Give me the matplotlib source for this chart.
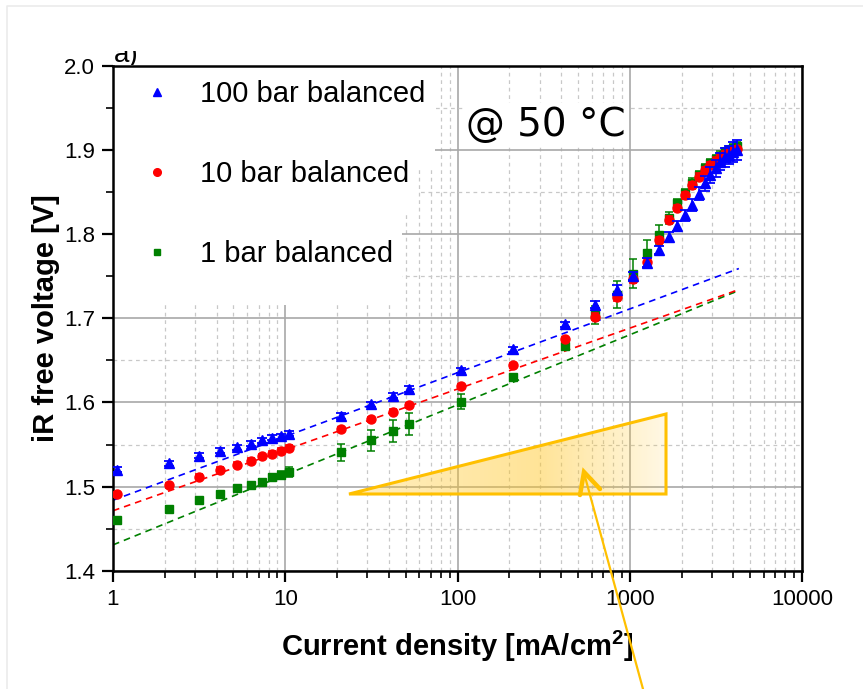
import numpy as np
import matplotlib
matplotlib.use("Agg")
import matplotlib.pyplot as plt
from matplotlib.ticker import LogLocator, NullFormatter, MultipleLocator
from matplotlib.patches import Polygon, Rectangle
from matplotlib.lines import Line2D
from matplotlib.transforms import Bbox

plt.rcParams['font.family'] = ['Liberation Sans', 'DejaVu Sans']
plt.rcParams['mathtext.fontset'] = 'custom'
plt.rcParams['mathtext.rm'] = 'Liberation Sans'
plt.rcParams['mathtext.bf'] = 'Liberation Sans:bold'

# current density [mA/cm2], shared by the three series
j = [1.05, 2.1, 3.15, 4.2, 5.25, 6.3, 7.35, 8.4, 9.45, 10.5,
     21, 31.5, 42, 52.5, 105, 210, 420, 630, 840, 1050, 1260,
     1470, 1680, 1890, 2100, 2310, 2520, 2730, 2940, 3150, 3360,
     3570, 3780, 3990, 4200]

v_100 = [1.520, 1.528, 1.537, 1.543, 1.547, 1.551, 1.555, 1.558, 1.560, 1.563,
         1.584, 1.598, 1.608, 1.616, 1.638, 1.663, 1.693, 1.716, 1.734, 1.750,
         1.766, 1.781, 1.796, 1.809, 1.822, 1.834, 1.848, 1.860, 1.870, 1.878,
         1.886, 1.891, 1.894, 1.897, 1.900]
err_100 = [0.003, 0.003, 0.003, 0.003, 0.003, 0.003, 0.003, 0.003, 0.003, 0.003,
           0.003, 0.003, 0.003, 0.003, 0.003, 0.003, 0.003, 0.004, 0.005, 0.005,
           0.005, 0.005, 0.006, 0.006, 0.007, 0.007, 0.008, 0.009, 0.009, 0.010,
           0.010, 0.011, 0.011, 0.012, 0.012]

v_10 = [1.491, 1.502, 1.512, 1.520, 1.526, 1.531, 1.536, 1.539, 1.543, 1.546,
        1.568, 1.580, 1.589, 1.597, 1.619, 1.644, 1.675, 1.702, 1.725, 1.746,
        1.767, 1.793, 1.817, 1.831, 1.846, 1.858, 1.868, 1.876, 1.882, 1.887,
        1.891, 1.895, 1.897, 1.899, 1.901]
err_10 = [0.003] * 17 + [0.004] * 18

v_1 = [1.461, 1.474, 1.484, 1.491, 1.498, 1.502, 1.506, 1.511, 1.514, 1.517,
       1.541, 1.555, 1.566, 1.575, 1.601, 1.630, 1.667, 1.704, 1.728, 1.753,
       1.777, 1.799, 1.819, 1.837, 1.849, 1.861, 1.870, 1.878, 1.884, 1.889,
       1.893, 1.897, 1.900, 1.902, 1.904]
err_1 = [0.003, 0.003, 0.003, 0.003, 0.003, 0.003, 0.003, 0.004, 0.005, 0.006,
         0.010, 0.012, 0.013, 0.013, 0.009, 0.004, 0.005, 0.011, 0.016, 0.017,
         0.016, 0.012, 0.007, 0.005, 0.005, 0.005, 0.005, 0.005, 0.005, 0.005,
         0.005, 0.005, 0.005, 0.005, 0.005]

# Tafel fit lines (end points)
fit_j = [1, 4300]
fit_100 = [1.484, 1.759]
fit_10 = [1.4715, 1.734]
fit_1 = [1.431, 1.733]

labels = ['100 bar balanced', '10 bar balanced', '1 bar balanced']
x_ticks = [1, 10, 100, 1000, 10000]
y_ticks = [1.4, 1.5, 1.6, 1.7, 1.8, 1.9, 2.0]

W, H = 863, 689
fig = plt.figure(figsize=(W / 100, H / 100), dpi=100)
ax = fig.add_axes([113 / W, 1 - 571 / H, 689 / W, 505.5 / H])

def ax_px(px, py):
    return ((px - 113) / 689, (571 - py) / 505.5)

ax.set_xscale('log')
ax.set_xlim(1, 10000)
ax.set_ylim(1.4, 2.0)
ax.set_xticks(x_ticks)
ax.set_xticklabels([str(t) for t in x_ticks])
ax.xaxis.set_minor_locator(LogLocator(base=10, subs=range(2, 10)))
ax.xaxis.set_minor_formatter(NullFormatter())
ax.set_yticks(y_ticks)
ax.set_yticklabels(['%.1f' % t for t in y_ticks])
ax.yaxis.set_minor_locator(MultipleLocator(0.05))
ax.tick_params(which='major', direction='out', length=8, width=1.6, labelsize=16, pad=5)
ax.tick_params(which='minor', direction='out', length=5, width=1.2)
for s in ax.spines.values():
    s.set_linewidth(1.8)

ax.set_axisbelow(True)
ax.grid(which='major', color='#a8a8a8', lw=1.2, ls='-')
ax.grid(which='minor', color='#c8c8c8', lw=0.9, ls=(0, (3, 3)))

# white boxes behind the legend entries
for x1, y0, y1 in [(435, 65, 170), (418, 170, 212), (402, 212, 305)]:
    a0 = ax_px(113, y1)
    a1 = ax_px(x1, y0)
    ax.add_patch(Rectangle(a0, a1[0] - a0[0], a1[1] - a0[1], transform=ax.transAxes,
                           facecolor='white', edgecolor='none', zorder=1))

ax.plot(fit_j, fit_1, color='green', ls=(0, (4, 3)), lw=1.2, zorder=2)
ax.plot(fit_j, fit_10, color='red', ls=(0, (4, 3)), lw=1.2, zorder=2)
ax.plot(fit_j, fit_100, color='blue', ls=(0, (4, 3)), lw=1.2, zorder=2)

ax.errorbar(j, v_1, yerr=err_1, fmt='s', color='green', ms=5.5, capsize=3,
            elinewidth=1.1, capthick=1.1, zorder=3)
ax.errorbar(j, v_10, yerr=err_10, fmt='o', color='red', ms=6.5, capsize=3,
            elinewidth=1.1, capthick=1.1, zorder=4)
ax.errorbar(j, v_100, yerr=err_100, fmt='^', color='blue', ms=7.5, capsize=3.5,
            elinewidth=1.1, capthick=1.3, zorder=5)

handles = [Line2D([], [], ls='none', marker='^', color='blue', ms=6),
           Line2D([], [], ls='none', marker='o', color='red', ms=5.5),
           Line2D([], [], ls='none', marker='s', color='green', ms=5)]
ax.legend(handles, labels, loc='upper left', bbox_to_anchor=ax_px(142, 80),
          frameon=False, fontsize=21, handlelength=1.0, handletextpad=1.0,
          labelspacing=1.78, borderpad=0, borderaxespad=0)

tx, ty = ax_px(466, 136)
ax.text(tx, ty, '@ 50 °C', transform=ax.transAxes, fontsize=28, family='DejaVu Sans',
        va='baseline', ha='left', zorder=6,
        bbox=dict(facecolor='white', edgecolor='none', pad=2))

ax.set_xlabel('Current density [mA/cm$^\\mathbf{2}$]', fontsize=21, fontweight='bold')
ax.xaxis.set_label_coords(0.5, ax_px(0, 629)[1])
ax.set_ylabel('iR free voltage [V]', fontsize=21, fontweight='bold')
ax.yaxis.set_label_coords(ax_px(60, 0)[0], 0.5)

# clipped panel letter
t = fig.text(114 / W, 1 - 62 / H, 'a)', fontsize=20, va='baseline', ha='left')
t.set_clip_box(Bbox([[100, H - 65], [160, H - 51]]))
t.set_clip_on(True)

# shaded triangle with gradient
tri = [(349, 494), (666, 414), (666, 494)]
tax = fig.add_axes([346 / W, 1 - 498 / H, 324 / W, 88 / H])
tax.set_xlim(346, 670)
tax.set_ylim(498, 410)
tax.axis('off')
g = np.linspace(0, 1, 256)
alpha = np.interp(g, [0, 0.6, 1], [0.30, 0.48, 0.12])
img = np.zeros((1, 256, 4))
img[0, :, 0] = 1.0
img[0, :, 1] = 0.78
img[0, :, 2] = 0.15
img[0, :, 3] = alpha
im = tax.imshow(img, extent=(349, 666, 494, 414), aspect='auto', interpolation='bilinear')
clip = Polygon(tri, closed=True, transform=tax.transData, facecolor='none', edgecolor='none')
tax.add_patch(clip)
im.set_clip_path(clip)
tax.add_patch(Polygon(tri, closed=True, fill=False, edgecolor='#ffc000', lw=2.2,
                      joinstyle='miter'))

# arrow pointing at the triangle
def fig_px(px, py):
    return (px / W, 1 - py / H)

a, b = fig_px(643, 689), fig_px(584, 473)
fig.add_artist(Line2D([a[0], b[0]], [a[1], b[1]], color='#ffc000', lw=1.6))
p1, p2, p3 = fig_px(580, 495), fig_px(584, 472), fig_px(600, 489)
fig.add_artist(Line2D([p1[0], p2[0], p3[0]], [p1[1], p2[1], p3[1]], color='#ffc000',
                      lw=3.2, solid_joinstyle='miter', solid_capstyle='round'))

# faint border of the screenshot
c0, c1, c2 = fig_px(7, 689), fig_px(7, 6), fig_px(863, 6)
fig.add_artist(Line2D([c0[0], c1[0], c2[0]], [c0[1], c1[1], c2[1]], color='#ebebeb', lw=1.2))

fig.savefig('out.png', dpi=100)
